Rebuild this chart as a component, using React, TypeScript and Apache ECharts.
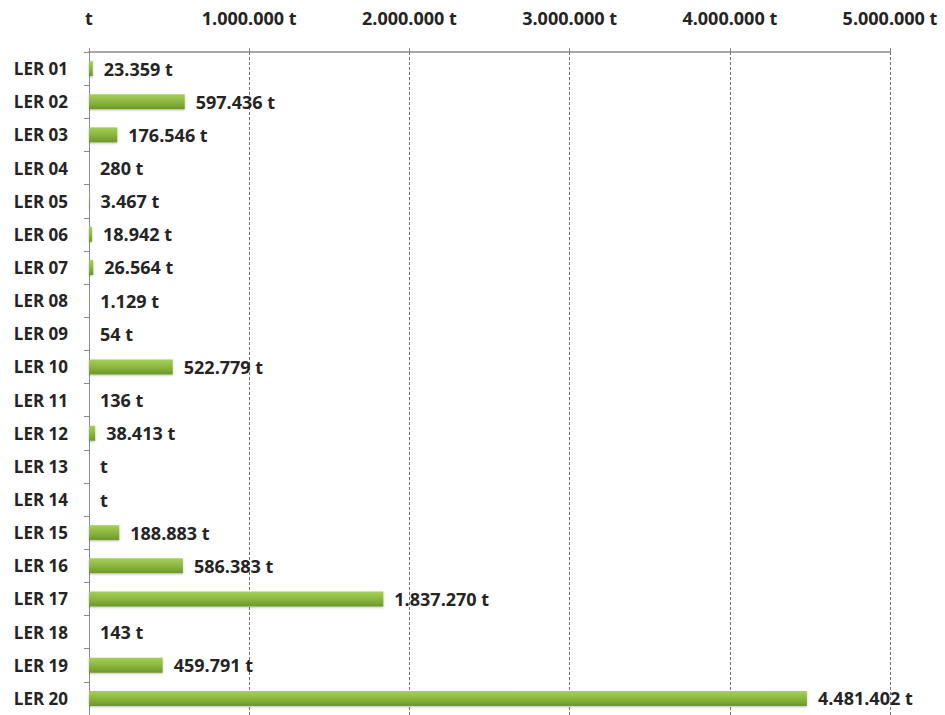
import React, { useEffect, useRef } from "react";
import * as echarts from "echarts";

const categories = [
  "LER 01", "LER 02", "LER 03", "LER 04", "LER 05", "LER 06", "LER 07", "LER 08", "LER 09", "LER 10",
  "LER 11", "LER 12", "LER 13", "LER 14", "LER 15", "LER 16", "LER 17", "LER 18", "LER 19", "LER 20",
];
const values = [
  23359, 597436, 176546, 280, 3467, 18942, 26564, 1129, 54, 522779,
  136, 38413, 0, 0, 188883, 586383, 1837270, 143, 459791, 4481402,
];
const axisMax = 5000000;
const axisStep = 1000000;

const fmt = (n: number) => (n === 0 ? "t" : n.toString().replace(/\B(?=(\d{3})+(?!\d))/g, ".") + " t");

const FONT = "'Open Sans', sans-serif";
const TEXT = "#242424";

export default function App() {
  const ref = useRef<HTMLDivElement>(null);
  useEffect(() => {
    if (!ref.current) return;
    const chart = echarts.init(ref.current, null, { renderer: "svg" });
    chart.setOption({
      animation: false,
      backgroundColor: "#ffffff",
      grid: { left: 89, right: 55, top: 52, bottom: 0, containLabel: false },
      xAxis: {
        type: "value",
        position: "top",
        min: 0,
        max: axisMax,
        interval: axisStep,
        axisLine: { show: true, lineStyle: { color: "#8a8a8a", width: 1.5 } },
        axisTick: { show: true, length: 4, lineStyle: { color: "#8a8a8a" } },
        splitLine: { show: true, lineStyle: { color: "#6f6f6f", type: [3, 2], width: 1 } },
        axisLabel: {
          formatter: (v: number) => fmt(v),
          margin: 25,
          fontFamily: FONT,
          fontWeight: "bold",
          fontSize: 18,
          color: TEXT,
        },
      },
      yAxis: {
        type: "category",
        inverse: true,
        data: categories,
        axisLine: { show: true, lineStyle: { color: "#8a8a8a", width: 1 } },
        axisTick: { show: true, length: 5, lineStyle: { color: "#8a8a8a" } },
        axisLabel: {
          margin: 21,
          fontFamily: FONT,
          fontWeight: "bold",
          fontSize: 17,
          color: TEXT,
        },
      },
      series: [
        {
          type: "bar",
          data: values,
          barWidth: 15,
          itemStyle: {
            color: new echarts.graphic.LinearGradient(0, 0, 0, 1, [
              { offset: 0, color: "#a6cf5a" },
              { offset: 0.5, color: "#8ab73e" },
              { offset: 1, color: "#6c972b" },
            ]),
            shadowColor: "rgba(0,0,0,0.25)",
            shadowBlur: 2,
            shadowOffsetY: 1,
          },
          label: {
            show: true,
            position: "right",
            distance: 11,
            formatter: (p: any) => fmt(p.value),
            fontFamily: FONT,
            fontWeight: "bold",
            fontSize: 18,
            color: TEXT,
          },
        },
      ],
    });
    return () => chart.dispose();
  }, []);
  return (
    <div
      ref={ref}
      style={{ position: "fixed", left: 0, top: 0, width: 945, height: 715, background: "#fff" }}
    />
  );
}
